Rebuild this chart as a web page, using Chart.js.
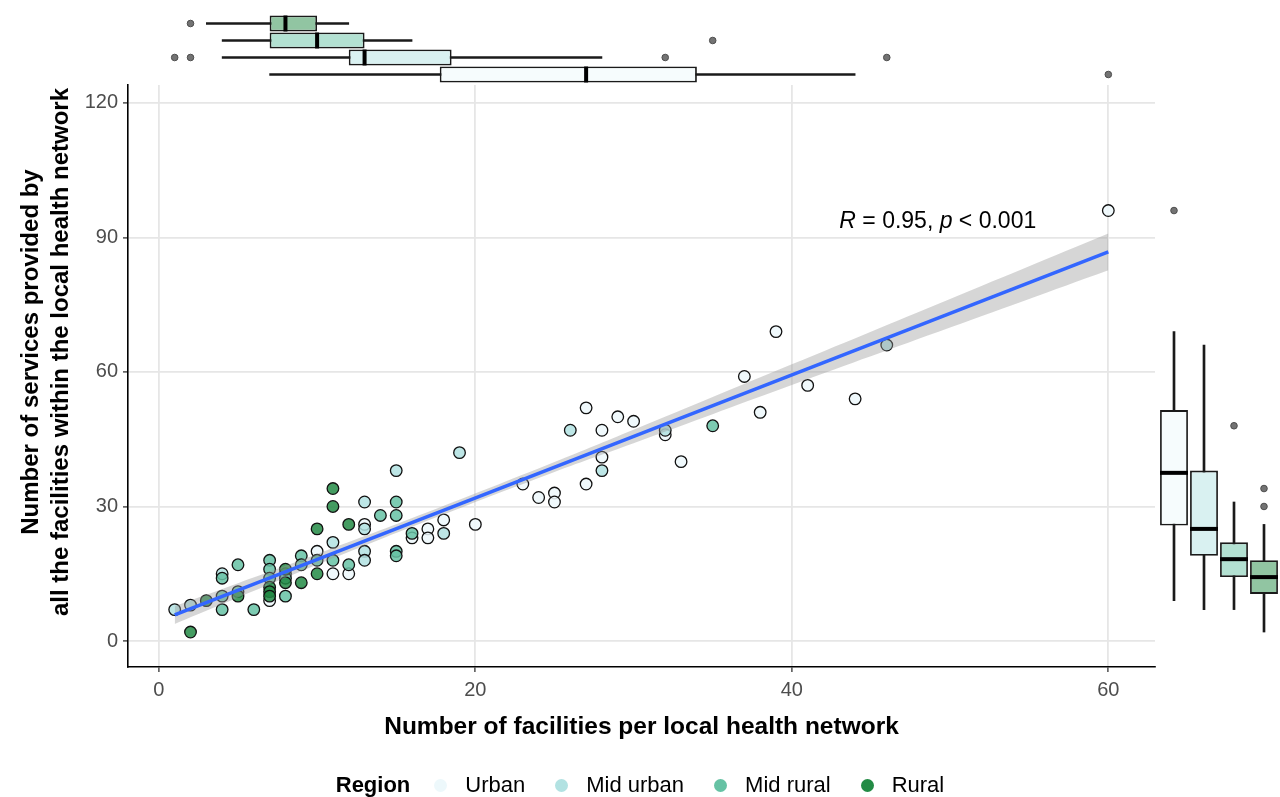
<!DOCTYPE html>
<html><head><meta charset="utf-8">
<script src="https://cdn.jsdelivr.net/npm/chart.js@4.4.0/dist/chart.umd.min.js"></script>
<style>
html,body{margin:0;padding:0;background:#fff;}
#wrap{position:relative;width:1280px;height:797px;overflow:hidden;font-family:"Liberation Sans",Arial,sans-serif;}
canvas{position:absolute;display:block;}
#ytitle{position:absolute;left:-235px;top:322px;width:560px;height:60px;line-height:30px;font-size:24px;font-weight:bold;text-align:center;color:#000;transform:rotate(-90deg);white-space:nowrap;}
#legend{position:absolute;left:0;top:772px;width:1280px;height:26px;display:flex;justify-content:center;align-items:center;font-size:22px;color:#000;}
#legend .ttl{font-weight:bold;margin-right:24px;}
#legend .item{display:flex;align-items:center;margin-right:30px;}
#legend .item:last-child{margin-right:0;}
#legend .dot{width:13px;height:13px;border-radius:50%;margin-right:18px;}
</style></head>
<body><div id="wrap">
<canvas id="main" width="1280" height="797" style="left:0;top:0;"></canvas>
<canvas id="topbox" width="1027" height="68" style="left:128px;top:15px;"></canvas>
<canvas id="rightbox" width="120" height="582" style="left:1159px;top:85px;"></canvas>
<div id="ytitle">Number of services provided by<br>all the facilities within the local health network</div>
<div id="legend"></div>
</div>
<script>
// ---------- data ----------
const regions = ['Urban', 'Mid urban', 'Mid rural', 'Rural'];
const regionColors = ['#EDF8FB', '#B2E2E2', '#66C2A4', '#238B45'];

const urbanFacilities = [7, 10, 11, 12, 13, 16, 17, 17, 18, 20, 23, 24, 25, 25, 27, 27, 28, 28, 29, 30, 32, 33, 37, 38, 39, 41, 44, 60];
const urbanServices   = [9, 20, 15, 15, 26, 23, 25, 23, 27, 26, 35, 32, 33, 31, 52, 35, 47, 41, 50, 49, 46, 40, 59, 51, 69, 57, 54, 96];

const midUrbanFacilities = [1, 2, 4, 11, 13, 13, 13, 13, 15, 18, 19, 26, 28, 32, 46];
const midUrbanServices   = [7, 8, 15, 22, 31, 25, 20, 18, 38, 24, 42, 47, 38, 47, 66];

const midRuralFacilities = [4, 4, 4, 5, 5, 6, 7, 7, 7, 8, 8, 8, 9, 9, 10, 11, 12, 14, 15, 15, 15, 15, 16, 35];
const midRuralServices   = [14, 10, 7, 17, 11, 7, 18, 16, 14, 15, 14, 10, 19, 17, 18, 18, 17, 28, 31, 28, 20, 19, 24, 48];

const ruralFacilities = [2, 3, 5, 7, 7, 7, 8, 8, 9, 10, 10, 11, 11, 12];
const ruralServices   = [2, 9, 10, 12, 11, 10, 16, 13, 13, 25, 15, 34, 30, 26];

// fitted regression line and its 95% confidence band
const fitX = [1, 60];
const fitY = [5.8, 86.8];
const bandX    = [1, 5, 10, 17, 25, 30, 40, 50, 60];
const bandLow  = [3.8, 9.7, 17.0, 26.85, 37.7, 44.1, 57.1, 69.9, 82.7];
const bandHigh = [7.8, 12.9, 19.4, 28.75, 39.9, 47.1, 61.7, 76.3, 90.9];

// marginal boxplot statistics, in region order
const facWhiskerLow  = [7, 4, 4, 3];
const facQ1          = [17.75, 12, 7, 7];
const facMedian      = [27, 13, 10, 8];
const facQ3          = [34, 18.5, 13, 10];
const facWhiskerHigh = [44, 28, 16, 12];
const facOutliers    = [[60], [1, 2, 32, 46], [35], [2]];

const svcWhiskerLow  = [9, 7, 7, 2];
const svcQ1          = [25.75, 19, 14.25, 10.5];
const svcMedian      = [37.5, 25, 18.25, 14.25];
const svcQ3          = [51.5, 38, 22, 18];
const svcWhiskerHigh = [69, 66, 31, 26];
const svcOutliers    = [[96], [], [48], [30, 34]];

const xTickStep = 20, yTickStep = 30;
const corLabelX = 43, corLabelY = 93.5;
const corParts = [['R', true], [' = 0.95, ', false], ['p', true], [' < 0.001', false]];

// ---------- helpers ----------
const FONT = '"Liberation Sans", Arial, sans-serif';
const X_MIN = -1.95, X_MAX = 62.95, Y_MIN = -5.8, Y_MAX = 124;
function hexA(hex, a){const n=parseInt(hex.slice(1),16);return `rgba(${n>>16},${(n>>8)&255},${n&255},${a})`;}
function blendWhite(hex, a){const n=parseInt(hex.slice(1),16);const c=[n>>16,(n>>8)&255,n&255].map(v=>Math.round(v*a+255*(1-a)));return `rgb(${c[0]},${c[1]},${c[2]})`;}
const zip = (xs, ys) => xs.map((v, i) => ({x: v, y: ys[i]}));

Chart.defaults.font.family = FONT;

// ---------- main scatter ----------
const seriesX = [urbanFacilities, midUrbanFacilities, midRuralFacilities, ruralFacilities];
const seriesY = [urbanServices, midUrbanServices, midRuralServices, ruralServices];

const pointSets = regions.map((r, i) => ({
  type: 'scatter', label: r, data: zip(seriesX[i], seriesY[i]),
  backgroundColor: hexA(regionColors[i], 0.85), borderColor: '#111', borderWidth: 1.3,
  pointRadius: 5.8, pointHoverRadius: 5.8, order: 10 - i
}));

const corLabel = {
  id: 'corLabel',
  afterDatasetsDraw(chart){
    const {ctx, scales:{x, y}} = chart;
    let cx = x.getPixelForValue(corLabelX); const cy = y.getPixelForValue(corLabelY);
    ctx.save(); ctx.fillStyle = '#000'; ctx.textBaseline = 'middle'; ctx.textAlign = 'left';
    for (const [t, it] of corParts){ ctx.font = (it ? 'italic ' : '') + '23px ' + FONT; ctx.fillText(t, cx, cy); cx += ctx.measureText(t).width; }
    ctx.restore();
  }
};

new Chart(document.getElementById('main'), {
  type: 'scatter',
  data: { datasets: [
    { type: 'line', data: zip(fitX, fitY), borderColor: '#3366FF', borderWidth: 3.5, pointRadius: 0, fill: false, order: 0 },
    { type: 'line', data: zip(bandX, bandHigh), borderWidth: 0, borderColor: 'rgba(0,0,0,0)', pointRadius: 0, fill: '+1', backgroundColor: 'rgba(153,153,153,0.4)', tension: 0.4, order: 1 },
    { type: 'line', data: zip(bandX, bandLow), borderWidth: 0, borderColor: 'rgba(0,0,0,0)', pointRadius: 0, fill: false, tension: 0.4, order: 1 },
    ...pointSets
  ]},
  options: {
    responsive: false, animation: false, devicePixelRatio: 1,
    layout: { padding: { left: 0, top: 85, right: 125, bottom: 0 }, autoPadding: false },
    plugins: { legend: { display: false }, tooltip: { enabled: false } },
    scales: {
      x: {
        type: 'linear', min: X_MIN, max: X_MAX, offset: false,
        afterFit(s){ s.height = 130; },
        ticks: { stepSize: xTickStep, includeBounds: false, color: '#4D4D4D', font: { size: 20 }, padding: 6, maxRotation: 0 },
        grid: { color: '#E6E6E6', lineWidth: 1.8, tickLength: 5, tickColor: '#333', tickWidth: 1.3 },
        border: { display: true, color: '#000', width: 1.6 },
        title: { display: true, text: 'Number of facilities per local health network', color: '#000', font: { size: 24.5, weight: 'bold' }, padding: { top: 0, bottom: 55 } }
      },
      y: {
        type: 'linear', min: Y_MIN, max: Y_MAX, offset: false,
        afterFit(s){ s.width = 128; },
        ticks: { stepSize: yTickStep, includeBounds: false, color: '#4D4D4D', font: { size: 20 }, padding: 5 },
        grid: { color: '#E6E6E6', lineWidth: 1.8, tickLength: 5, tickColor: '#333', tickWidth: 1.3 },
        border: { display: true, color: '#000', width: 1.6 }
      }
    }
  },
  plugins: [corLabel]
});

// ---------- marginal boxplots ----------
function boxDatasets(order, lowW, q1, med, q3, highW, outl, valueKey, catKey, medRotation, medRadius, barPct){
  const idx = order.map(r => regions.indexOf(r));
  const pt = (v, r) => ({ [valueKey]: v, [catKey]: r });
  const outPts = [];
  idx.forEach((k, j) => outl[k].forEach(v => outPts.push(pt(v, order[j]))));
  return [
    { type: 'scatter', data: idx.map((k, j) => pt(med[k], order[j])), pointStyle: 'line', rotation: medRotation,
      pointRadius: medRadius, pointHoverRadius: medRadius, borderColor: '#000', borderWidth: 4, clip: false, order: 0 },
    { type: 'scatter', data: outPts, pointRadius: 3.3, pointHoverRadius: 3.3, backgroundColor: '#737373', borderColor: '#4d4d4d', borderWidth: 1, clip: false, order: 0 },
    { type: 'bar', indexAxis: catKey, data: idx.map(k => [q1[k], q3[k]]), backgroundColor: idx.map(k => blendWhite(regionColors[k], 0.5)),
      borderColor: '#1A1A1A', borderWidth: 1.8, borderSkipped: false, barPercentage: barPct, categoryPercentage: 1, grouped: false, clip: false, order: 1 },
    { type: 'bar', indexAxis: catKey, data: idx.map(k => [lowW[k], highW[k]]), backgroundColor: '#1A1A1A', barThickness: 2, grouped: false, clip: false, order: 2 }
  ];
}
const marginOpts = (scales, indexAxis) => ({
  responsive: false, animation: false, devicePixelRatio: 1, indexAxis,
  layout: { padding: 0, autoPadding: false },
  plugins: { legend: { display: false }, tooltip: { enabled: false } },
  scales
});

const topOrder = ['Rural', 'Mid rural', 'Mid urban', 'Urban'];
new Chart(document.getElementById('topbox'), {
  type: 'bar',
  data: { labels: topOrder, datasets: boxDatasets(topOrder, facWhiskerLow, facQ1, facMedian, facQ3, facWhiskerHigh, facOutliers, 'x', 'y', 90, 8, 0.94) },
  options: marginOpts({
    x: { type: 'linear', min: X_MIN, max: X_MAX, offset: false, display: false },
    y: { type: 'category', display: false, offset: true }
  }, 'y')
});

const rightOrder = ['Urban', 'Mid urban', 'Mid rural', 'Rural'];
new Chart(document.getElementById('rightbox'), {
  type: 'bar',
  data: { labels: rightOrder, datasets: boxDatasets(rightOrder, svcWhiskerLow, svcQ1, svcMedian, svcQ3, svcWhiskerHigh, svcOutliers, 'y', 'x', 0, 14, 0.93) },
  options: marginOpts({
    x: { type: 'category', display: false, offset: true },
    y: { type: 'linear', min: Y_MIN, max: Y_MAX, offset: false, display: false }
  }, 'x')
});

// ---------- legend ----------
const lg = document.getElementById('legend');
lg.innerHTML = '<span class="ttl">Region</span>' + regions.map((r, i) =>
  `<span class="item"><span class="dot" style="background:${regionColors[i]}"></span>${r}</span>`).join('');
</script>
</body></html>
